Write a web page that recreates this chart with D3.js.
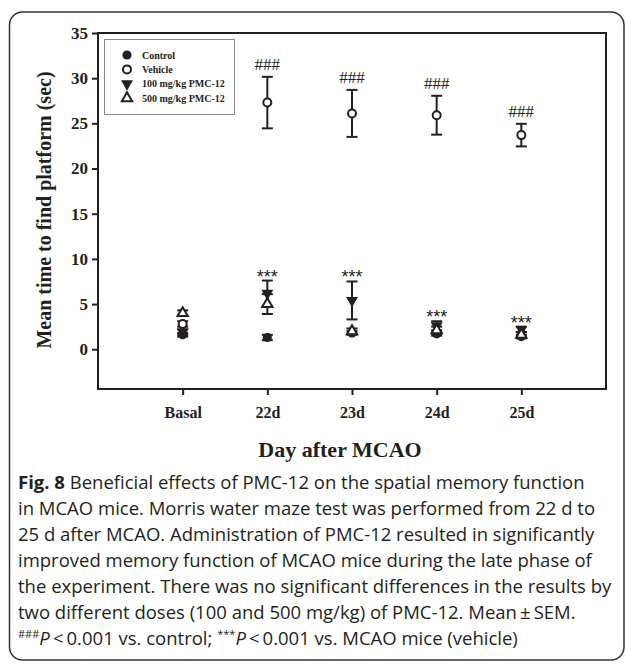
<!DOCTYPE html>
<html>
<head>
<meta charset="utf-8">
<script src="https://cdn.jsdelivr.net/npm/d3@7"></script>
<style>
body { margin: 0; background: #fff; }
svg { display: block; }
.ax text { font-family: "Liberation Serif", serif; font-weight: bold; font-size: 16px; fill: #231f20; }
.ax line { stroke: #231f20; stroke-width: 2; }
.cap { font-family: "Open Sans", sans-serif; font-size: 18.5px; fill: #231f20; }
</style>
</head>
<body>
<div class="chart"></div>
<script>

var days = ["Basal", "22d", "23d", "24d", "25d"]
var yTicks = [0, 5, 10, 15, 20, 25, 30, 35]

var controlMean = [1.6, 1.3, 1.8, 1.7, 1.4]
var controlErr = [0.2, 0.3, 0.2, 0.2, 0.2]
var vehicleMean = [2.8, 27.3, 26.1, 25.9, 23.7]
var vehicleErr = [0.3, 2.85, 2.6, 2.15, 1.25]
var pmc100Mean = [1.9, 6.2, 5.4, 2.6, 2.2]
var pmc100Err = [0.3, 1.4, 2.1, 0.5, 0.3]
var pmc500Mean = [4.0, 5.0, 2.0, 2.1, 1.6]
var pmc500Err = [0.3, 1.1, 0.3, 0.4, 0.3]

var hashMarks = ["", "###", "###", "###", "###"]
var starMarks = ["", "***", "***", "***", "***"]

var legendNames = ["Control", "Vehicle", "100 mg/kg PMC-12", "500 mg/kg PMC-12"]

var captionLines = [
  [["b", "Fig. 8"], ["n", " Beneficial effects of PMC-12 on the spatial memory function"]],
  [["n", "in MCAO mice. Morris water maze test was performed from 22 d to"]],
  [["n", "25 d after MCAO. Administration of PMC-12 resulted in significantly"]],
  [["n", "improved memory function of MCAO mice during the late phase of"]],
  [["n", "the experiment. There was no significant differences in the results by"]],
  [["n", "two different doses (100 and 500 mg/kg) of PMC-12. Mean\u2009\u00b1\u2009SEM."]],
  [["s", "###"], ["i", "P"], ["n", "\u2009<\u20090.001 vs. control; "], ["s", "***"], ["i", "P"], ["n", "\u2009<\u20090.001 vs. MCAO mice (vehicle)"]]
]

var width = 627,
    height = 665,
    plot = {left: 98, right: 606, top: 33, bottom: 389}

var svg = d3.select(".chart")
  .append("svg")
  .attr("width", width)
  .attr("height", height)

svg.append("rect")
  .attr("x", 9.5)
  .attr("y", 12)
  .attr("width", 614.5)
  .attr("height", 648)
  .attr("rx", 13)
  .attr("fill", "none")
  .attr("stroke", "#333")
  .attr("stroke-width", 1.5)

var x = d3.scalePoint()
  .domain(days)
  .range([plot.left, plot.right])
  .padding(1)

var y = d3.scaleLinear()
  .domain([-4.4, 35])
  .range([plot.bottom, plot.top])

var yAxis = svg.append("g")
  .attr("class", "ax")
  .attr("transform", "translate(" + plot.left + ",0)")
  .call(d3.axisLeft(y).tickValues(yTicks).tickSize(6).tickPadding(4))
yAxis.select(".domain").remove()
yAxis.selectAll("text").style("font-size", "17px")

var xAxis = svg.append("g")
  .attr("class", "ax")
  .attr("transform", "translate(0," + plot.bottom + ")")
  .call(d3.axisBottom(x).tickSize(6).tickPadding(12))
xAxis.select(".domain").remove()

svg.append("rect")
  .attr("x", plot.left)
  .attr("y", plot.top)
  .attr("width", plot.right - plot.left)
  .attr("height", plot.bottom - plot.top)
  .attr("fill", "none")
  .attr("stroke", "#231f20")
  .attr("stroke-width", 2)

var series = [
  {name: legendNames[0], mean: controlMean, err: controlErr, shape: d3.symbolCircle, size: 66, open: false, rot: 0},
  {name: legendNames[1], mean: vehicleMean, err: vehicleErr, shape: d3.symbolCircle, size: 50, open: true, rot: 0},
  {name: legendNames[2], mean: pmc100Mean, err: pmc100Err, shape: d3.symbolTriangle, size: 62, open: false, rot: 180},
  {name: legendNames[3], mean: pmc500Mean, err: pmc500Err, shape: d3.symbolTriangle, size: 46, open: true, rot: 0}
]

var bars = svg.append("g")
  .attr("stroke", "#231f20")
  .attr("stroke-width", 2)

series.forEach(function(s) {
  days.forEach(function(d, i) {
    var cx = x(d),
        lo = y(s.mean[i] - s.err[i]),
        hi = y(s.mean[i] + s.err[i])
    bars.append("line").attr("x1", cx).attr("x2", cx).attr("y1", lo).attr("y2", hi)
    bars.append("line").attr("x1", cx - 5.5).attr("x2", cx + 5.5).attr("y1", lo).attr("y2", lo)
    bars.append("line").attr("x1", cx - 5.5).attr("x2", cx + 5.5).attr("y1", hi).attr("y2", hi)
  })
})

series.forEach(function(s) {
  svg.append("g")
    .selectAll("path")
    .data(days)
    .enter()
    .append("path")
    .attr("d", d3.symbol().type(s.shape).size(s.size))
    .attr("transform", function(d, i) {
      return "translate(" + x(d) + "," + y(s.mean[i]) + ") rotate(" + s.rot + ")"
    })
    .attr("fill", s.open ? "#fff" : "#231f20")
    .attr("stroke", "#231f20")
    .attr("stroke-width", s.open ? 2 : 0)
})

svg.append("g")
  .selectAll("text")
  .data(days)
  .enter()
  .append("text")
  .attr("x", function(d) { return x(d); })
  .attr("y", function(d, i) { return y(vehicleMean[i] + vehicleErr[i]) - 7; })
  .attr("text-anchor", "middle")
  .style("font-family", "'Liberation Serif', serif")
  .style("font-size", "17px")
  .attr("fill", "#231f20")
  .text(function(d, i) { return hashMarks[i]; })

svg.append("g")
  .selectAll("text")
  .data(days)
  .enter()
  .append("text")
  .attr("x", function(d) { return x(d); })
  .attr("y", function(d, i) {
    return y(Math.max(pmc100Mean[i] + pmc100Err[i], pmc500Mean[i] + pmc500Err[i])) + 2;
  })
  .attr("text-anchor", "middle")
  .style("font-family", "'Liberation Sans', sans-serif")
  .style("font-size", "18px")
  .attr("fill", "#231f20")
  .text(function(d, i) { return starMarks[i]; })

// legend
var legend = svg.append("g")
legend.append("rect")
  .attr("x", 104.5)
  .attr("y", 39.5)
  .attr("width", 130)
  .attr("height", 75)
  .attr("fill", "none")
  .attr("stroke", "#888")
  .attr("stroke-width", 1)

var items = legend.selectAll(".item")
  .data(series)
  .enter()
  .append("g")
  .attr("transform", function(d, i) { return "translate(127," + (55 + i * 14.4) + ")"; })

items.append("path")
  .attr("d", function(d) { return d3.symbol().type(d.shape).size(d.size)(); })
  .attr("transform", function(d) { return "rotate(" + d.rot + ")"; })
  .attr("fill", function(d) { return d.open ? "#fff" : "#231f20"; })
  .attr("stroke", "#231f20")
  .attr("stroke-width", function(d) { return d.open ? 2 : 0; })

items.append("text")
  .attr("x", 15)
  .attr("y", 3.5)
  .style("font-family", "'Liberation Serif', serif")
  .style("font-weight", "bold")
  .style("font-size", "10px")
  .attr("fill", "#231f20")
  .text(function(d) { return d.name; })

svg.append("text")
  .attr("transform", "translate(51," + ((plot.top + 367) / 2 + 10) + ") rotate(-90)")
  .attr("text-anchor", "middle")
  .style("font-family", "'Liberation Serif', serif")
  .style("font-weight", "bold")
  .style("font-size", "20px")
  .attr("fill", "#231f20")
  .text("Mean time to find platform (sec)")

svg.append("text")
  .attr("x", 340)
  .attr("y", 457)
  .attr("text-anchor", "middle")
  .style("font-family", "'Liberation Serif', serif")
  .style("font-weight", "bold")
  .style("font-size", "22px")
  .attr("fill", "#231f20")
  .text("Day after MCAO")

var cap = svg.append("g")
captionLines.forEach(function(line, k) {
  var t = cap.append("text")
    .attr("class", "cap")
    .attr("x", 18)
    .attr("y", 489 + k * 26)
  line.forEach(function(part) {
    var sp = t.append("tspan").text(part[1])
    if (part[0] == "b") sp.style("font-weight", "bold")
    if (part[0] == "i") sp.style("font-style", "italic")
    if (part[0] == "s") sp.style("font-size", "11px").attr("dy", -7)
    if (part[0] == "i" && k == 6) sp.attr("dy", 7)
  })
})

</script>
</body>
</html>
